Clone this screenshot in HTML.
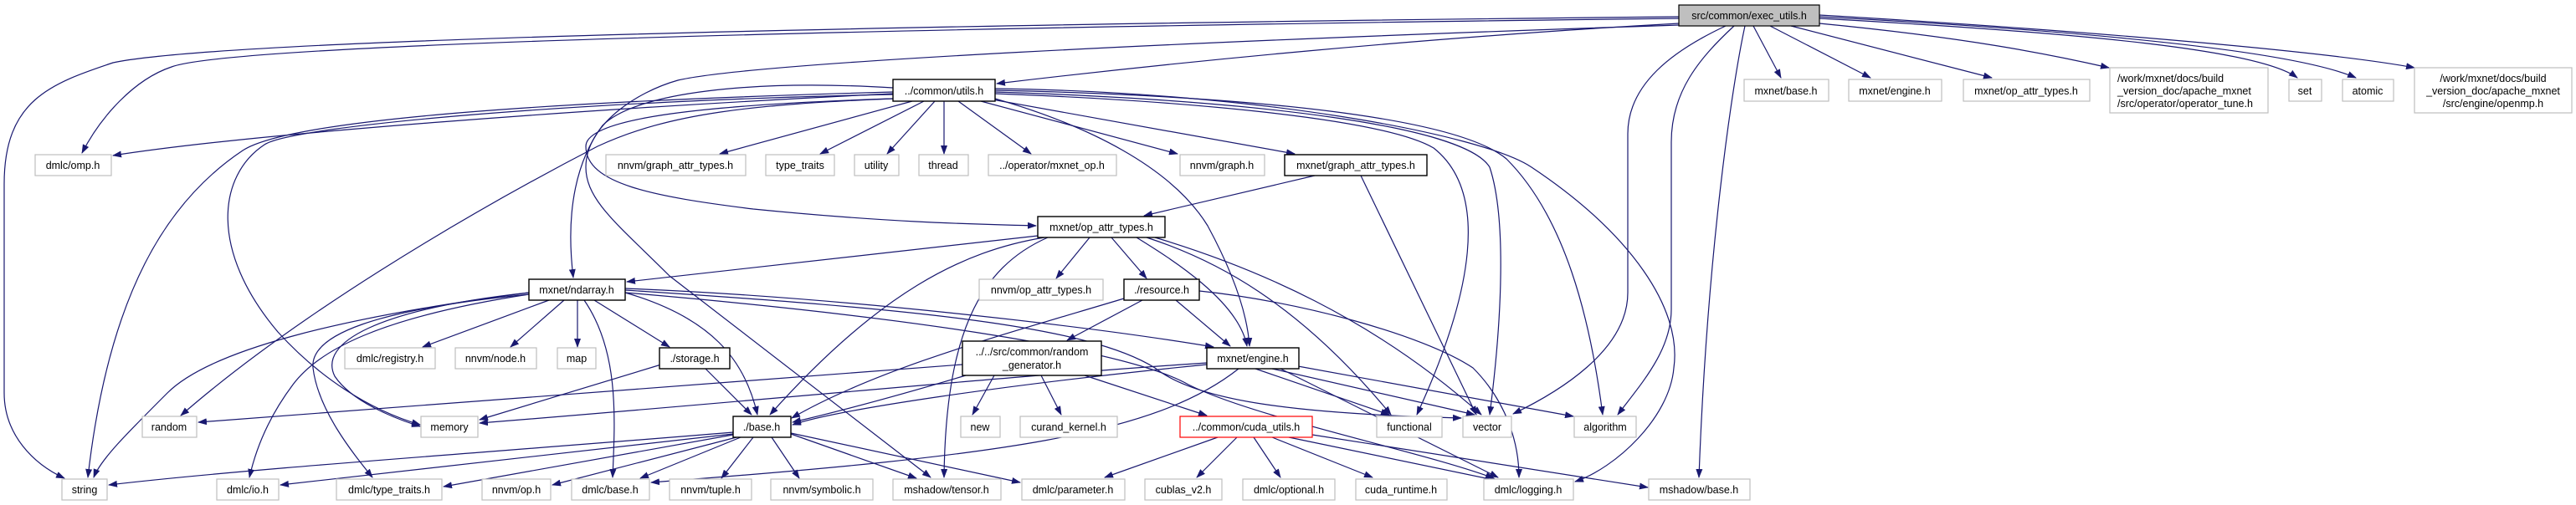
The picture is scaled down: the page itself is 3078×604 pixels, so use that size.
<!DOCTYPE html>
<html><head><meta charset="utf-8"><style>
html,body{margin:0;padding:0;background:#fff;}
svg{display:block;}
text{font-family:"Liberation Sans",sans-serif;font-size:12.5px;fill:#000;}
.e{fill:none;stroke:#191970;stroke-width:1.2;marker-end:url(#a);}
.g{fill:#fff;stroke:#bfbfbf;stroke-width:1.2;}
.b{fill:#fff;stroke:#000;stroke-width:1.4;}
</style></head><body>
<svg width="3078" height="604" viewBox="0 0 3078 604" xmlns="http://www.w3.org/2000/svg">
<defs><marker id="a" markerUnits="userSpaceOnUse" markerWidth="11" markerHeight="8" refX="10" refY="4" orient="auto"><path d="M0,0 L11,4 L0,8 z" fill="#191970"/></marker></defs>
<g>
<path class="e" d="M2006,28 C1700,45 1400,75 1191,100"/>
<path class="e" d="M2006,22 C1500,28 300,45 205,80 C160,95 120,140 98,183"/>
<path class="e" d="M2006,20 C1500,25 300,40 135,75 C60,100 5,120 5,220 L5,470 C5,520 40,555 77,572"/>
<path class="e" d="M2006,30 C1400,50 900,75 810,96 C760,110 700,150 700,200 C700,240 740,270 800,330 L1112,571"/>
<path class="e" d="M2095,31 L2128,93"/>
<path class="e" d="M2115,31 L2235,93"/>
<path class="e" d="M2140,31 C2250,60 2330,80 2380,93"/>
<path class="e" d="M2174,28 C2350,45 2450,65 2520,81"/>
<path class="e" d="M2174,22 C2500,40 2700,60 2745,93"/>
<path class="e" d="M2174,20 C2550,40 2750,65 2815,93"/>
<path class="e" d="M2174,18 C2550,40 2800,65 2885,81"/>
<path class="e" d="M2062,31 C2000,60 1945,100 1945,160 L1945,350 C1945,420 1860,470 1808,495"/>
<path class="e" d="M2072,31 C2030,70 1997,110 1997,170 L1997,370 C1997,420 1960,460 1933,496"/>
<path class="e" d="M2085,31 C2070,100 2040,300 2030,571"/>

<path class="e" d="M1067,112 C700,130 300,160 135,186"/>
<path class="e" d="M1067,110 C700,120 350,140 290,180 C200,240 130,350 105,571"/>
<path class="e" d="M1067,113 C700,120 350,150 316,173 C260,210 250,300 332,397 C380,450 440,490 502,508"/>
<path class="e" d="M1067,118 C900,125 800,135 714,175 C550,260 350,380 216,497"/>
<path class="e" d="M1067,105 C900,95 760,110 720,150 C690,190 675,250 685,332"/>
<path class="e" d="M1090,121 L860,184"/>
<path class="e" d="M1104,121 L980,184"/>
<path class="e" d="M1117,121 L1060,184"/>
<path class="e" d="M1128,121 L1128,184"/>
<path class="e" d="M1145,121 L1232,184"/>
<path class="e" d="M1172,121 L1407,184"/>
<path class="e" d="M1180,118 L1547,184"/>
<path class="e" d="M1067,118 C850,125 700,140 700,175 C700,220 780,235 900,250 C1050,265 1150,268 1238,270"/>
<path class="e" d="M1189,118 C1300,150 1400,200 1443,270 C1470,320 1490,370 1493,414"/>
<path class="e" d="M1189,112 C1400,120 1650,140 1713,177 C1780,230 1760,350 1693,496"/>
<path class="e" d="M1189,110 C1500,120 1750,150 1780,200 C1800,260 1795,380 1780,496"/>
<path class="e" d="M1189,108 C1500,115 1740,140 1800,190 C1870,260 1900,380 1915,496"/>
<path class="e" d="M1189,106 C1500,110 1770,160 1830,200 C1950,280 2010,370 2000,440 C1995,500 1930,560 1882,576"/>

<path class="e" d="M1571,210 L1367,258"/>
<path class="e" d="M1626,210 L1764,496"/>

<path class="e" d="M1240,282 L749,337"/>
<path class="e" d="M1302,284 L1262,333"/>
<path class="e" d="M1328,284 L1370,333"/>
<path class="e" d="M1358,284 C1400,310 1480,360 1490,414"/>
<path class="e" d="M1248,284 C1150,300 1050,350 920,496"/>
<path class="e" d="M1252,284 C1170,320 1130,400 1128,571"/>
<path class="e" d="M1370,284 C1450,310 1550,360 1662,496"/>
<path class="e" d="M1380,284 C1500,320 1640,380 1770,496"/>

<path class="e" d="M1365,359 L1275,407"/>
<path class="e" d="M1405,359 L1470,414"/>
<path class="e" d="M1343,357 C1200,400 1050,440 946,500"/>
<path class="e" d="M1433,348 C1550,360 1700,400 1760,440 C1800,480 1815,530 1815,571"/>

<path class="e" d="M1188,449 L1162,496"/>
<path class="e" d="M1244,449 L1268,496"/>
<path class="e" d="M1296,449 L1442,497"/>
<path class="e" d="M1154,449 C1050,480 990,495 947,505"/>
<path class="e" d="M1150,436 L237,505"/>

<path class="e" d="M1442,436 C1200,460 1000,490 947,508"/>
<path class="e" d="M1442,434 C1200,450 900,480 573,506"/>
<path class="e" d="M1500,441 L1660,496"/>
<path class="e" d="M1520,441 L1762,496"/>
<path class="e" d="M1540,436 L1880,498"/>
<path class="e" d="M1480,441 C1380,520 1200,545 778,577"/>
<path class="e" d="M1530,441 L1790,571"/>

<path class="e" d="M1455,523 L1320,571"/>
<path class="e" d="M1478,523 L1430,571"/>
<path class="e" d="M1498,523 L1530,571"/>
<path class="e" d="M1520,523 L1640,571"/>
<path class="e" d="M1540,523 L1790,575"/>
<path class="e" d="M1568,520 L1969,583"/>

<path class="e" d="M656,359 L505,415"/>
<path class="e" d="M674,359 L610,415"/>
<path class="e" d="M690,359 L690,415"/>
<path class="e" d="M710,359 L800,415"/>
<path class="e" d="M698,359 C740,420 735,500 732,571"/>
<path class="e" d="M632,350 C400,380 250,420 200,470 C150,520 120,550 112,571"/>
<path class="e" d="M632,352 C450,380 380,420 350,460 C320,500 305,540 298,571"/>
<path class="e" d="M632,352 C450,370 370,400 374,440 C380,490 420,540 445,571"/>
<path class="e" d="M632,350 C450,370 380,410 400,450 C420,480 470,500 502,510"/>
<path class="e" d="M747,350 C850,380 890,430 905,496"/>
<path class="e" d="M747,345 C1000,355 1300,390 1450,415"/>
<path class="e" d="M747,347 C1100,370 1300,390 1380,440 C1430,480 1550,495 1746,500"/>
<path class="e" d="M747,350 C1100,380 1350,420 1420,460 C1500,500 1700,540 1785,572"/>

<path class="e" d="M843,441 L898,496"/>
<path class="e" d="M790,436 L573,502"/>

<path class="e" d="M876,517 C600,540 300,560 130,580"/>
<path class="e" d="M876,519 L335,580"/>
<path class="e" d="M876,520 L530,582"/>
<path class="e" d="M880,523 L660,580"/>
<path class="e" d="M885,523 L765,572"/>
<path class="e" d="M900,523 L862,572"/>
<path class="e" d="M922,523 L955,572"/>
<path class="e" d="M945,519 L1095,572"/>
<path class="e" d="M945,518 L1219,577"/>
</g>

<g>
<rect x="2006" y="6" width="168" height="25" fill="#bfbfbf" stroke="#000" stroke-width="1.2"/><text x="2090" y="23" text-anchor="middle">src/common/exec_utils.h</text>

<rect class="b" x="1067" y="95" width="122" height="26"/><text x="1128" y="113" text-anchor="middle">../common/utils.h</text>
<rect class="g" x="2084" y="95" width="101" height="26"/><text x="2134" y="113" text-anchor="middle">mxnet/base.h</text>
<rect class="g" x="2209" y="95" width="111" height="26"/><text x="2264" y="113" text-anchor="middle">mxnet/engine.h</text>
<rect class="g" x="2346" y="95" width="151" height="26"/><text x="2421" y="113" text-anchor="middle">mxnet/op_attr_types.h</text>
<rect class="g" x="2521" y="81" width="189" height="54"/><text x="2530" y="98">/work/mxnet/docs/build</text><text x="2530" y="113">_version_doc/apache_mxnet</text><text x="2530" y="128">/src/operator/operator_tune.h</text>
<rect class="g" x="2735" y="95" width="39" height="26"/><text x="2754" y="113" text-anchor="middle">set</text>
<rect class="g" x="2799" y="95" width="61" height="26"/><text x="2829" y="113" text-anchor="middle">atomic</text>
<rect class="g" x="2885" y="81" width="188" height="54"/><text x="2979" y="98" text-anchor="middle">/work/mxnet/docs/build</text><text x="2979" y="113" text-anchor="middle">_version_doc/apache_mxnet</text><text x="2979" y="128" text-anchor="middle">/src/engine/openmp.h</text>

<rect class="g" x="42" y="185" width="91" height="25"/><text x="87" y="202" text-anchor="middle">dmlc/omp.h</text>
<rect class="g" x="724" y="185" width="167" height="25"/><text x="807" y="202" text-anchor="middle">nnvm/graph_attr_types.h</text>
<rect class="g" x="915" y="185" width="82" height="25"/><text x="956" y="202" text-anchor="middle">type_traits</text>
<rect class="g" x="1021" y="185" width="53" height="25"/><text x="1047" y="202" text-anchor="middle">utility</text>
<rect class="g" x="1098" y="185" width="59" height="25"/><text x="1127" y="202" text-anchor="middle">thread</text>
<rect class="g" x="1181" y="185" width="153" height="25"/><text x="1257" y="202" text-anchor="middle">../operator/mxnet_op.h</text>
<rect class="g" x="1410" y="185" width="101" height="25"/><text x="1460" y="202" text-anchor="middle">nnvm/graph.h</text>
<rect class="b" x="1535" y="185" width="170" height="25"/><text x="1620" y="202" text-anchor="middle">mxnet/graph_attr_types.h</text>

<rect class="b" x="1240" y="259" width="152" height="25"/><text x="1316" y="276" text-anchor="middle">mxnet/op_attr_types.h</text>

<rect class="b" x="632" y="334" width="115" height="25"/><text x="689" y="351" text-anchor="middle">mxnet/ndarray.h</text>
<rect class="g" x="1170" y="334" width="148" height="25"/><text x="1244" y="351" text-anchor="middle">nnvm/op_attr_types.h</text>
<rect class="b" x="1343" y="334" width="90" height="25"/><text x="1388" y="351" text-anchor="middle">./resource.h</text>

<rect class="g" x="412" y="416" width="108" height="25"/><text x="466" y="433" text-anchor="middle">dmlc/registry.h</text>
<rect class="g" x="544" y="416" width="97" height="25"/><text x="592" y="433" text-anchor="middle">nnvm/node.h</text>
<rect class="g" x="666" y="416" width="46" height="25"/><text x="689" y="433" text-anchor="middle">map</text>
<rect class="b" x="788" y="416" width="84" height="25"/><text x="830" y="433" text-anchor="middle">./storage.h</text>
<rect class="b" x="1150" y="408" width="166" height="41"/><text x="1233" y="425" text-anchor="middle">../../src/common/random</text><text x="1233" y="441" text-anchor="middle">_generator.h</text>
<rect class="b" x="1442" y="416" width="110" height="25"/><text x="1497" y="433" text-anchor="middle">mxnet/engine.h</text>

<rect class="g" x="170" y="498" width="65" height="25"/><text x="202" y="515" text-anchor="middle">random</text>
<rect class="g" x="503" y="498" width="68" height="25"/><text x="537" y="515" text-anchor="middle">memory</text>
<rect class="b" x="876" y="498" width="69" height="25"/><text x="910" y="515" text-anchor="middle">./base.h</text>
<rect class="g" x="1148" y="498" width="47" height="25"/><text x="1171" y="515" text-anchor="middle">new</text>
<rect class="g" x="1219" y="498" width="116" height="25"/><text x="1277" y="515" text-anchor="middle">curand_kernel.h</text>
<rect x="1410" y="498" width="158" height="25" fill="#fff" stroke="#ff0000" stroke-width="1.2"/><text x="1489" y="515" text-anchor="middle">../common/cuda_utils.h</text>
<rect class="g" x="1645" y="498" width="78" height="25"/><text x="1684" y="515" text-anchor="middle">functional</text>
<rect class="g" x="1748" y="498" width="58" height="25"/><text x="1777" y="515" text-anchor="middle">vector</text>
<rect class="g" x="1881" y="498" width="74" height="25"/><text x="1918" y="515" text-anchor="middle">algorithm</text>

<rect class="g" x="74" y="573" width="54" height="25"/><text x="101" y="590" text-anchor="middle">string</text>
<rect class="g" x="259" y="573" width="74" height="25"/><text x="296" y="590" text-anchor="middle">dmlc/io.h</text>
<rect class="g" x="402" y="573" width="126" height="25"/><text x="465" y="590" text-anchor="middle">dmlc/type_traits.h</text>
<rect class="g" x="576" y="573" width="82" height="25"/><text x="617" y="590" text-anchor="middle">nnvm/op.h</text>
<rect class="g" x="683" y="573" width="93" height="25"/><text x="729" y="590" text-anchor="middle">dmlc/base.h</text>
<rect class="g" x="800" y="573" width="98" height="25"/><text x="849" y="590" text-anchor="middle">nnvm/tuple.h</text>
<rect class="g" x="921" y="573" width="122" height="25"/><text x="982" y="590" text-anchor="middle">nnvm/symbolic.h</text>
<rect class="g" x="1067" y="573" width="129" height="25"/><text x="1131" y="590" text-anchor="middle">mshadow/tensor.h</text>
<rect class="g" x="1221" y="573" width="123" height="25"/><text x="1282" y="590" text-anchor="middle">dmlc/parameter.h</text>
<rect class="g" x="1368" y="573" width="92" height="25"/><text x="1414" y="590" text-anchor="middle">cublas_v2.h</text>
<rect class="g" x="1485" y="573" width="110" height="25"/><text x="1540" y="590" text-anchor="middle">dmlc/optional.h</text>
<rect class="g" x="1620" y="573" width="109" height="25"/><text x="1674" y="590" text-anchor="middle">cuda_runtime.h</text>
<rect class="g" x="1773" y="573" width="107" height="25"/><text x="1826" y="590" text-anchor="middle">dmlc/logging.h</text>
<rect class="g" x="1970" y="573" width="121" height="25"/><text x="2030" y="590" text-anchor="middle">mshadow/base.h</text>
</g>
</svg>
</body></html>
